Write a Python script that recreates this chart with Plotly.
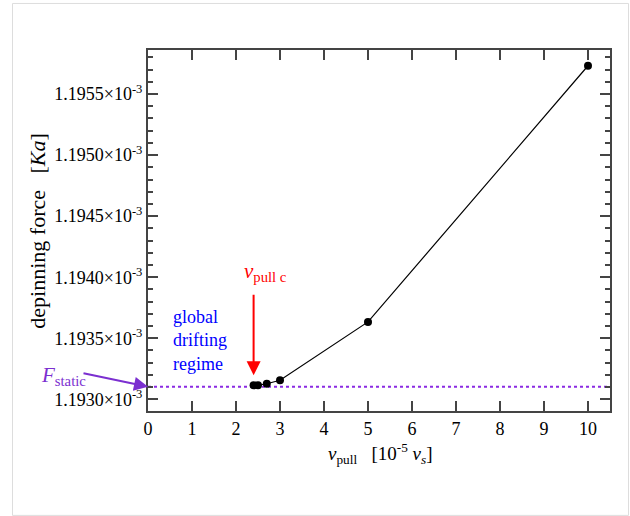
import plotly.graph_objects as go

# data
v_pull = [2.4, 2.5, 2.7, 3.0, 5.0, 10.0]
force = [1.193115e-3, 1.193115e-3, 1.193127e-3, 1.193156e-3, 1.193634e-3, 1.195732e-3]
F_STATIC = 1.193102e-3
V_PULL_C = 2.4
x_ticks = list(range(0, 11))
y_ticks = [1.1930e-3, 1.1935e-3, 1.1940e-3, 1.1945e-3, 1.1950e-3, 1.1955e-3]
y_tick_text = ["1.1930×10<sup>-3</sup>", "1.1935×10<sup>-3</sup>", "1.1940×10<sup>-3</sup>",
               "1.1945×10<sup>-3</sup>", "1.1950×10<sup>-3</sup>", "1.1955×10<sup>-3</sup>"]

FONT = "Liberation Serif, Times New Roman, serif"
AX = "#444444"
PURPLE = "#7b2fd0"
NB = "\u00a0"

# plot-area geometry in pixels
L, R, T, B = 148, 610, 50, 410.7
PW, PH = R - L, B - T


def px(x):
    return (x - L) / PW


def py(y):
    return (B - y) / PH


fig = go.Figure()
fig.add_trace(go.Scatter(x=v_pull, y=force, mode="lines+markers",
                         line=dict(color="black", width=1.2),
                         marker=dict(color="black", size=8),
                         showlegend=False, hoverinfo="skip"))

# static force dotted line
fig.add_shape(type="line", xref="paper", x0=0, x1=1, yref="y", y0=F_STATIC, y1=F_STATIC,
              line=dict(color="#8a2be2", width=2, dash="dot"), layer="below")

# outer frame
fig.add_shape(type="rect", xref="paper", yref="paper",
              x0=px(12.5), x1=px(628.5), y0=py(515), y1=py(3.5),
              line=dict(color="#dddddd", width=1))

ann = []
# v_pull c arrow
ann.append(dict(x=V_PULL_C, y=force[0], xref="x", yref="y", ax=0, ay=-92,
                axref="pixel", ayref="pixel", text="", showarrow=True,
                arrowhead=2, arrowsize=1.4, arrowwidth=2, arrowcolor="red", standoff=10))
ann.append(dict(x=px(265), y=py(272), xref="paper", yref="paper",
                xanchor="center", yanchor="middle",
                text="<i>v</i><sub>pull c</sub>", showarrow=False,
                font=dict(family=FONT, size=21, color="red")))
# F_static arrow
ann.append(dict(x=0, y=F_STATIC, xref="x", yref="y", ax=-66, ay=-14,
                axref="pixel", ayref="pixel", text="", showarrow=True,
                arrowhead=2, arrowsize=1.4, arrowwidth=2, arrowcolor=PURPLE, standoff=0))
ann.append(dict(x=px(39), y=py(376), xref="paper", yref="paper",
                xanchor="left", yanchor="middle", text="<i>F</i><sub>static</sub>", showarrow=False,
                font=dict(family=FONT, size=21, color=PURPLE)))
# global drifting regime
ann.append(dict(x=px(171), y=py(340), xref="paper", yref="paper",
                xanchor="left", yanchor="middle", align="left",
                text="global<br>drifting<br>regime",
                showarrow=False, font=dict(family=FONT, size=18, color="blue")))
# axis titles
ann.append(dict(x=px(380), y=py(453), xref="paper", yref="paper",
                xanchor="center", yanchor="middle",
                text="<i>v</i><sub>pull</sub>" + NB * 3 + "[10<sup>-5</sup> <i>v</i><sub><i>s</i></sub>]",
                showarrow=False, font=dict(family=FONT, size=19, color="black")))
ann.append(dict(x=px(37.5), y=py(231), xref="paper", yref="paper",
                xanchor="center", yanchor="middle",
                text="depinning force" + NB * 3 + "[<i>Ka</i>]", textangle=-90,
                showarrow=False, font=dict(family=FONT, size=22, color="black")))

fig.update_layout(
    width=630, height=516,
    margin=dict(l=L, r=630 - R, t=T, b=516 - B, pad=0),
    paper_bgcolor="white", plot_bgcolor="white",
    font=dict(family=FONT, size=18, color="black"),
    annotations=ann,
)
fig.update_xaxes(range=[0, 10.5], tickvals=x_ticks, ticks="inside", ticklen=10,
                 tickwidth=1.5, tickcolor=AX, showline=True, linecolor=AX, linewidth=2,
                 mirror="ticks", showgrid=False, zeroline=False,
                 tickfont=dict(family=FONT, size=18, color="black"))
fig.update_yaxes(range=[1.192904e-3, 1.195861e-3], tickvals=y_ticks, ticktext=y_tick_text,
                 ticks="inside", ticklen=10, tickwidth=1.5, tickcolor=AX,
                 showline=True, linecolor=AX, linewidth=2, mirror="ticks",
                 showgrid=False, zeroline=False,
                 minor=dict(dtick=0.0001e-3, tick0=1.1930e-3, ticks="inside", ticklen=5,
                            tickwidth=1.5, tickcolor=AX, showgrid=False),
                 tickfont=dict(family=FONT, size=18, color="black"))

fig.write_html("out.html", config={"displayModeBar": False},
               post_script="document.body.style.margin='0';")
